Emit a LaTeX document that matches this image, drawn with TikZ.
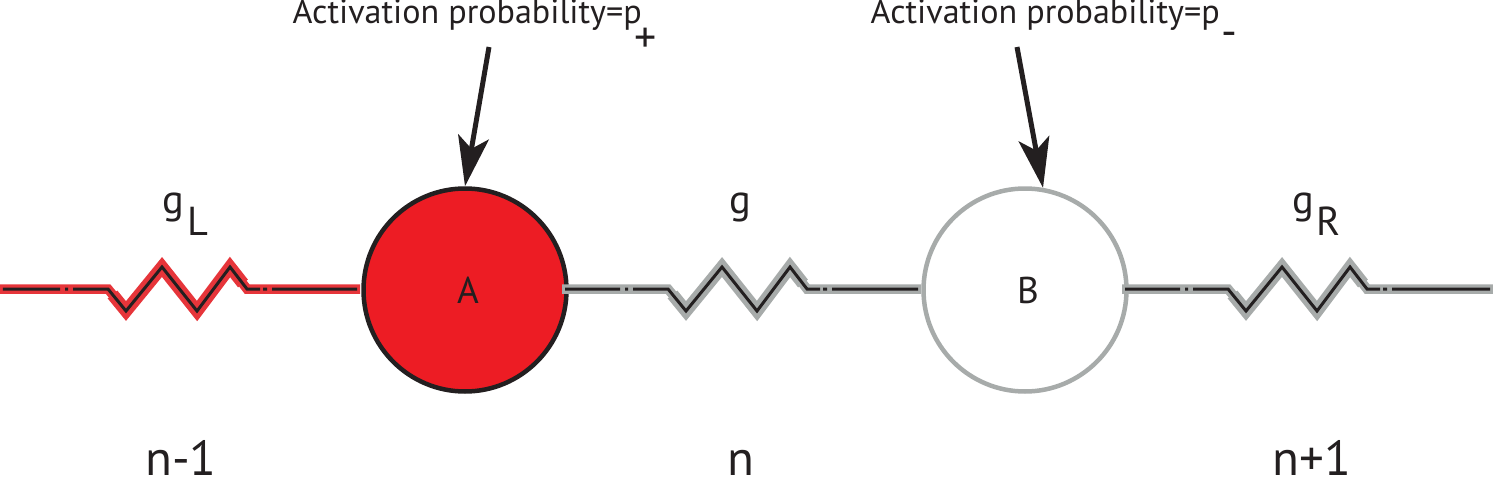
\documentclass[tikz,border=0pt]{standalone}
\usepackage{fontspec}
\setmainfont{PT Sans}
\usetikzlibrary{arrows.meta}
\definecolor{myred}{HTML}{ED1C24}
\definecolor{bandred}{HTML}{E6353A}
\definecolor{mygrey}{HTML}{A7ABAA}
\definecolor{myblack}{HTML}{231F20}
\tikzset{
    site/.style={circle, draw, line width=0.045cm, minimum size=2.03cm, inner sep=0pt, text=myblack, font=\fontsize{10.6}{12}\selectfont},
    band/.style={line width=0.095cm, miter limit=10},
    zigband/.style={line width=0.125cm, miter limit=10},
    wire/.style={draw=myblack, line width=0.03cm, miter limit=10},
    pointer/.style={draw=myblack, line width=0.05cm, -{Stealth[length=0.5cm, width=0.31cm, inset=0.12cm, fill=myblack]}},
    probtext/.style={anchor=base west, inner sep=0pt, text=myblack, font=\fontsize{9.7}{11}\selectfont},
    condtext/.style={anchor=base west, inner sep=0pt, text=myblack, font=\fontsize{11.5}{13}\selectfont},
    celltext/.style={anchor=base, inner sep=0pt, text=myblack, font=\fontsize{14}{16}\selectfont}
}
\begin{document}
\begin{tikzpicture}
    \useasboundingbox (0,0) rectangle (14.93,4.76);

    % Sites
    \node[site, fill=myred, draw=myblack] (siteA) at (4.65,1.86) {\kern0.06cm A};
    \node[site, fill=white, draw=mygrey] (siteB) at (10.25,1.86) {\kern0.06cm B};

    % Wire ends
    \coordinate (leftA) at (0,1.87);
    \coordinate (leftB) at (3.60,1.87);
    \coordinate (midA) at (5.62,1.87);
    \coordinate (midB) at (9.21,1.87);
    \coordinate (rightA) at (11.22,1.87);
    \coordinate (rightB) at (14.93,1.87);

    % Springs
    \foreach \name/\dx/\col in {left/0/bandred, mid/5.6/mygrey, right/11.2/mygrey} {
        \begin{scope}[xshift=\dx cm]
            \draw[band, draw=\col] (\name A) -- (1.08,1.87) -- (1.26,1.65) -- (1.62,2.09) -- (1.97,1.65) -- (2.30,2.09) -- (2.47,1.87) -- (\name B);
            \draw[zigband, draw=\col] (1.125,1.815) -- (1.26,1.65) -- (1.62,2.09) -- (1.97,1.65) -- (2.30,2.09) -- (2.43,1.925);
            \draw[wire] ([xshift=0.03cm]\name A) -- (0.60,1.87) (0.65,1.87) -- (0.68,1.87)
                (0.73,1.87) -- (1.08,1.87) -- (1.26,1.65) -- (1.62,2.09) -- (1.97,1.65) -- (2.30,2.09) -- (2.47,1.87) -- (2.60,1.87)
                (2.63,1.87) -- (2.67,1.87) (2.72,1.87) -- ([xshift=-0.03cm]\name B);
        \end{scope}
    }

    % Activation
    \node[probtext] (probA) at (2.92,4.52) {Activation probability=p\kern-2pt\raisebox{-8pt}{\fontsize{12.5}{14}\selectfont +}};
    \node[probtext] (probB) at (8.70,4.52) {Activation probability=p\kern0.5pt\raisebox{-6.5pt}{\fontsize{12.5}{14}\selectfont -}};
    \coordinate (startA) at (4.89,4.29);
    \coordinate (startB) at (10.17,4.29);
    \draw[pointer] (startA) -- (siteA.north);
    \draw[pointer] (startB) -- (siteB.80);

    % Conductances
    \node[condtext] (condL) at (1.62,2.63) {g\kern1pt\raisebox{-6.5pt}{L}};
    \node[condtext] (condM) at (7.29,2.63) {g};
    \node[condtext] (condR) at (12.92,2.63) {g\kern0.5pt\raisebox{-6.5pt}{R}};

    % Cells
    \node[celltext] (cellL) at (1.81,0.01) {n-1};
    \node[celltext] (cellM) at (7.41,0.01) {n};
    \node[celltext] (cellR) at (13.12,0.01) {n+1};
\end{tikzpicture}
\end{document}
